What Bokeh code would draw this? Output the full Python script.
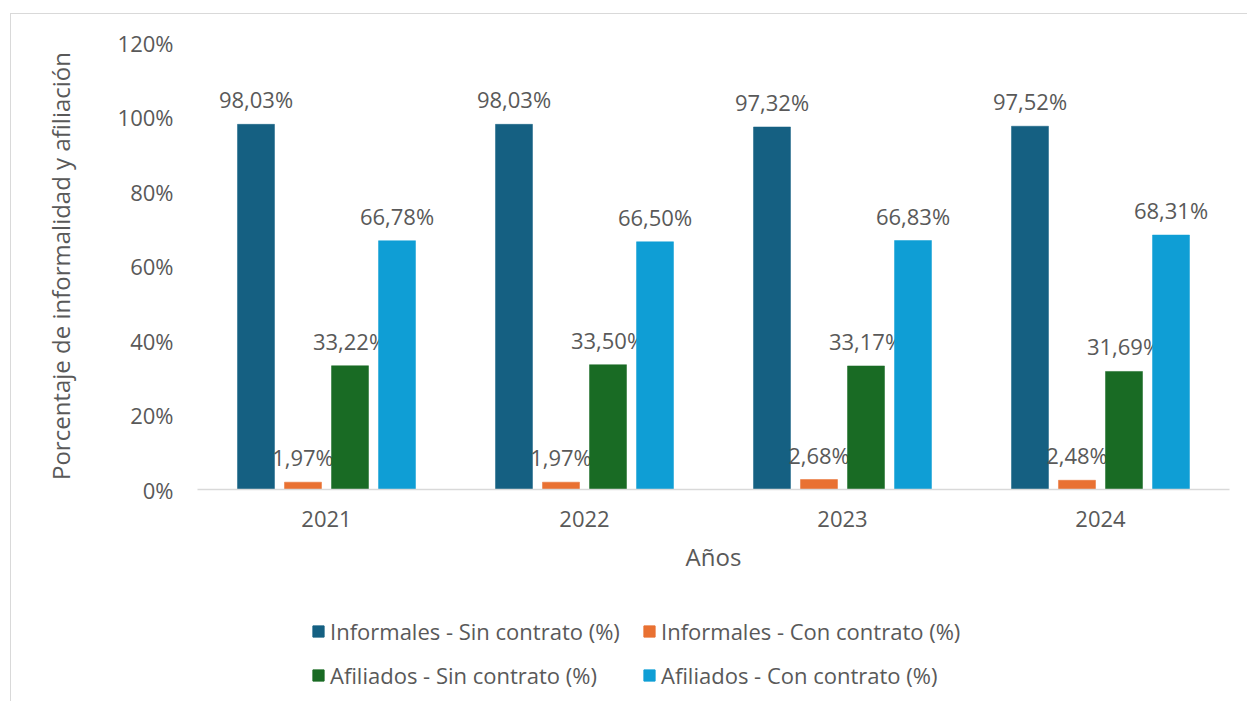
from bokeh.plotting import figure
from bokeh.models import (FactorRange, Legend, LegendItem, ColumnDataSource,
                          FixedTicker, InlineStyleSheet)
from bokeh.layouts import column
from bokeh.transform import dodge
from bokeh.core.properties import value
from bokeh.embed import file_html
from bokeh.resources import INLINE

years = ["2021", "2022", "2023", "2024"]
series_names = ["Informales - Sin contrato (%)", "Informales - Con contrato (%)",
                "Afiliados - Sin contrato (%)", "Afiliados - Con contrato (%)"]
inf_sin = [98.03, 98.03, 97.32, 97.52]
inf_con = [1.97, 1.97, 2.68, 2.48]
afi_sin = [33.22, 33.50, 33.17, 31.69]
afi_con = [66.78, 66.50, 66.83, 68.31]
colors = ["#156082", "#E97132", "#196B24", "#0F9ED5"]
y_ticks = [0, 20, 40, 60, 80, 100, 120]
y_tick_labels = ["0%", "20%", "40%", "60%", "80%", "100%", "120%"]

FONT = "Open Sans"
TXT = "#595959"

W, H1, H2 = 1240, 600, 97
p = figure(x_range=FactorRange(factors=years, range_padding=0), y_range=(0, 120),
           width=W, height=H1, output_backend="svg", toolbar_location=None,
           min_border_left=197, min_border_right=W - 1229, min_border_top=42,
           min_border_bottom=H1 - 489)
p.x_range.range_padding = 0

series = [inf_sin, inf_con, afi_sin, afi_con]
offsets = [-0.2733, -0.0911, 0.0911, 0.2733]
bw = 0.1434
for vals, off, col in zip(series, offsets, colors):
    src = ColumnDataSource(dict(year=years, val=vals,
                                lab=[f"{v:.2f}%".replace(".", ",") for v in vals]))
    p.vbar(x=dodge("year", off, range=p.x_range), top="val", width=bw, bottom=0,
           source=src, fill_color=col, line_color=col, line_width=0.5)
    p.text(x=dodge("year", off, range=p.x_range), y="val", text="lab", source=src,
           y_offset=-25, text_align="center", text_baseline="middle",
           text_font=value(FONT), text_font_size="22px", text_color=TXT)

p.xgrid.grid_line_color = None
p.ygrid.grid_line_color = None
p.outline_line_color = None

p.yaxis.ticker = FixedTicker(ticks=y_ticks)
p.yaxis.major_label_overrides = {t: l for t, l in zip(y_ticks, y_tick_labels)}
p.yaxis.axis_line_color = None
p.yaxis.major_tick_line_color = None
p.yaxis.minor_tick_line_color = None
p.yaxis.major_label_standoff = 18
p.yaxis.axis_label = "Porcentaje de informalidad y afiliación"
p.yaxis.axis_label_standoff = 38

p.xaxis.axis_line_color = "#D9D9D9"
p.xaxis.axis_line_width = 1.5
p.xaxis.major_tick_line_color = None
p.xaxis.minor_tick_line_color = None
p.xaxis.major_label_standoff = 15
p.xaxis.axis_label = "Años"
p.xaxis.axis_label_standoff = 10

for ax in (p.xaxis, p.yaxis):
    ax.major_label_text_font = FONT
    ax.major_label_text_font_size = "22px"
    ax.major_label_text_color = TXT
    ax.axis_label_text_font = FONT
    ax.axis_label_text_font_size = "24px"
    ax.axis_label_text_font_style = "normal"
    ax.axis_label_text_color = TXT

# legend strip below the chart (its own bars lie outside its visible range)
p2 = figure(width=W, height=H2, x_range=FactorRange(factors=years), y_range=(500, 600),
            output_backend="svg", toolbar_location=None,
            x_axis_type=None, y_axis_type=None, min_border=0)
p2.xgrid.grid_line_color = None
p2.ygrid.grid_line_color = None
p2.outline_line_color = None
items = []
for vals, col, name in zip(series, colors, series_names):
    r = p2.vbar(x=years, top=vals, bottom=0, width=0.1, fill_color=col, line_color=col)
    items.append(LegendItem(label=name, renderers=[r], index=0))
legend = Legend(items=items, orientation="horizontal", nrows=2,
                location=(114, 7), padding=0, margin=0, spacing=14,
                glyph_width=14, glyph_height=14, label_standoff=5, label_height=30,
                label_width=298,
                label_text_font=FONT, label_text_font_size="22px", label_text_color=TXT,
                border_line_color=None, background_fill_alpha=0)
p2.add_layout(legend, "center")

layout = column(p, p2, spacing=0)
layout.stylesheets = [InlineStyleSheet(css="""
:host::after { content: ""; position: absolute; left: 10px; top: 13px;
  width: calc(100vw - 10px); height: calc(100vh - 13px);
  border-left: 1.5px solid #D9D9D9; border-top: 1.5px solid #D9D9D9;
  pointer-events: none; box-sizing: border-box; }
""")]

open("out.html", "w").write(file_html(layout, INLINE))
